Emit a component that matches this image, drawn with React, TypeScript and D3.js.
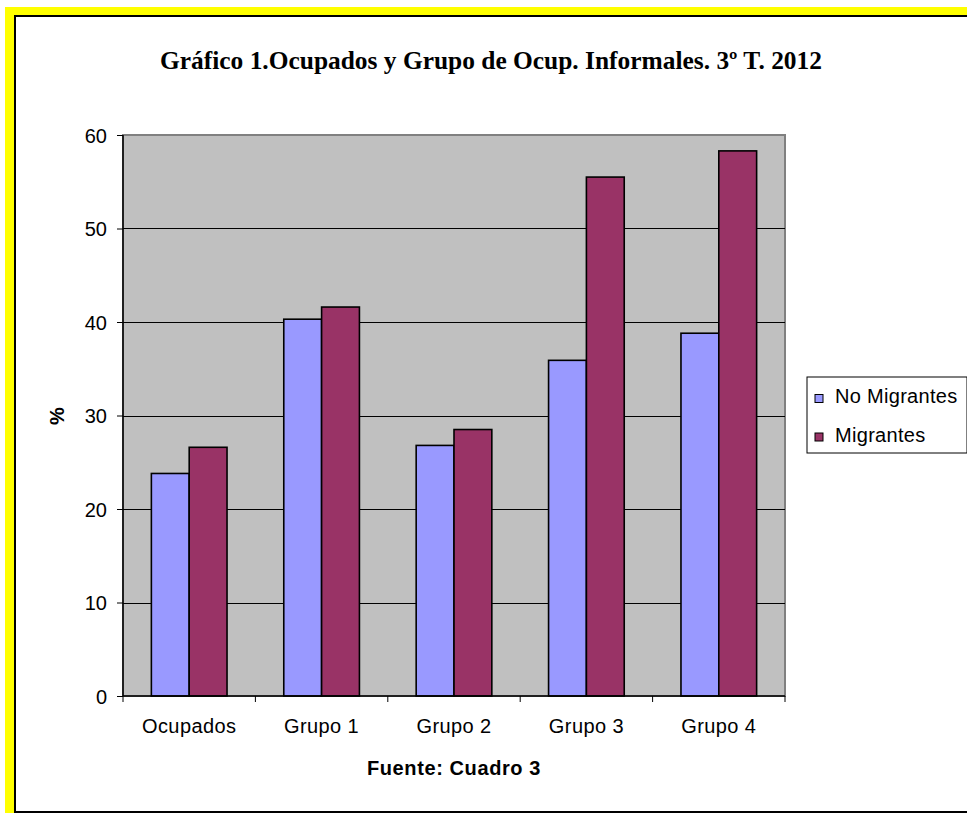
import React, { useEffect, useRef } from 'react';
import * as d3 from 'd3';

const categories = ['Ocupados', 'Grupo 1', 'Grupo 2', 'Grupo 3', 'Grupo 4'];
const seriesNames = ['No Migrantes', 'Migrantes'];
const noMigrantes = [23.8, 40.3, 26.8, 35.9, 38.8];
const migrantes = [26.6, 41.6, 28.5, 55.5, 58.3];
const yTicks = [0, 10, 20, 30, 40, 50, 60];
const colors = ['#9999ff', '#993366'];

const W = 967;
const H = 814;
const SANS = '"Liberation Sans", Arial, sans-serif';

export default function App() {
  const ref = useRef<SVGSVGElement | null>(null);

  useEffect(() => {
    if (!ref.current) return;
    const svg = d3.select(ref.current);
    svg.selectAll('*').remove();

    // yellow frame + black border (right edge runs off the page)
    svg.append('rect').attr('x', 5).attr('y', 7).attr('width', W).attr('height', 806).attr('fill', '#ffff00');
    svg.append('rect').attr('x', 15).attr('y', 16).attr('width', W).attr('height', 796)
      .attr('fill', '#fff').attr('stroke', '#000').attr('stroke-width', 2);

    const plot = { left: 123, right: 785, top: 135, bottom: 696 };

    const x = d3.scaleBand<string>().domain(categories).range([plot.left, plot.right]);
    const xs = d3.scaleBand<string>().domain(seriesNames).range([0, x.bandwidth()]).paddingInner(0).paddingOuter(0.75);
    const y = d3.scaleLinear().domain([0, 60]).range([plot.bottom, plot.top]);

    // plot background
    svg.append('rect').attr('x', plot.left).attr('y', plot.top)
      .attr('width', plot.right - plot.left).attr('height', plot.bottom - plot.top)
      .attr('fill', '#c0c0c0').attr('stroke', '#808080').attr('stroke-width', 2);

    // gridlines
    svg.append('g').selectAll('line').data(yTicks.filter(t => t > 0 && t < 60)).join('line')
      .attr('x1', plot.left).attr('x2', plot.right)
      .attr('y1', d => Math.round(y(d)) + 0.5).attr('y2', d => Math.round(y(d)) + 0.5)
      .attr('stroke', '#000').attr('stroke-width', 1);

    // bars
    const series = [noMigrantes, migrantes];
    series.forEach((vals, si) => {
      svg.append('g').selectAll('rect').data(vals).join('rect')
        .attr('x', (_d, i) => (x(categories[i]) ?? 0) + (xs(seriesNames[si]) ?? 0))
        .attr('y', d => y(d))
        .attr('width', xs.bandwidth())
        .attr('height', d => plot.bottom - y(d))
        .attr('fill', colors[si])
        .attr('stroke', '#000')
        .attr('stroke-width', 1.6);
    });

    // y axis
    const yAxis = svg.append('g').attr('transform', `translate(${plot.left},0)`)
      .call(d3.axisLeft(y).tickValues(yTicks).tickSize(6).tickPadding(10).tickFormat(d3.format('d')));
    yAxis.select('.domain').attr('stroke', '#000').attr('stroke-width', 1.5).attr('d', `M0,${plot.top}V${plot.bottom}`);
    yAxis.selectAll('line').attr('stroke', '#000');
    yAxis.selectAll('text').attr('font-family', SANS).attr('font-size', 20).attr('fill', '#000').attr('dy', '0.35em');

    // x axis line + boundary ticks
    svg.append('line').attr('x1', plot.left).attr('x2', plot.right)
      .attr('y1', plot.bottom).attr('y2', plot.bottom).attr('stroke', '#000').attr('stroke-width', 1.5);
    const bounds = categories.map(c => x(c) ?? 0).concat([plot.right]);
    svg.append('g').selectAll('line').data(bounds).join('line')
      .attr('x1', d => d).attr('x2', d => d)
      .attr('y1', plot.bottom).attr('y2', plot.bottom + 6)
      .attr('stroke', '#000');
    svg.append('g').selectAll('text').data(categories).join('text')
      .attr('x', d => (x(d) ?? 0) + x.bandwidth() / 2)
      .attr('y', 733)
      .attr('text-anchor', 'middle')
      .attr('font-family', SANS).attr('font-size', 20).attr('letter-spacing', 0.4)
      .text(d => d);

    // titles
    svg.append('text').attr('x', 491).attr('y', 69).attr('text-anchor', 'middle')
      .attr('font-family', '"Liberation Serif", "Times New Roman", serif')
      .attr('font-weight', 'bold').attr('font-size', 25)
      .attr('textLength', 662).attr('lengthAdjust', 'spacingAndGlyphs')
      .text('Gráfico 1.Ocupados y Grupo de Ocup. Informales. 3º T. 2012');

    svg.append('text').attr('x', (plot.left + plot.right) / 2).attr('y', 775).attr('text-anchor', 'middle')
      .attr('font-family', SANS).attr('font-weight', 'bold').attr('font-size', 20).attr('letter-spacing', 0.6)
      .text('Fuente: Cuadro 3');

    svg.append('text').attr('transform', 'translate(64,416) rotate(-90)').attr('text-anchor', 'middle')
      .attr('font-family', SANS).attr('font-weight', 'bold').attr('font-size', 20)
      .text('%');

    // legend
    const lg = svg.append('g');
    lg.append('rect').attr('x', 807).attr('y', 377).attr('width', 160).attr('height', 76)
      .attr('fill', '#fff').attr('stroke', '#000').attr('stroke-width', 1);
    seriesNames.forEach((name, i) => {
      const by = 403 + i * 38.5;
      lg.append('rect').attr('x', 815).attr('y', by - 8.5).attr('width', 8).attr('height', 8)
        .attr('fill', colors[i]).attr('stroke', '#000').attr('stroke-width', 1);
      lg.append('text').attr('x', 835).attr('y', by)
        .attr('font-family', SANS).attr('font-size', 20).attr('letter-spacing', 0.3)
        .text(name);
    });
  }, []);

  return (
    <div style={{ position: 'fixed', left: 0, top: 0 }}>
      <svg ref={ref} width={W} height={H} style={{ display: 'block', background: '#fff' }} />
    </div>
  );
}
